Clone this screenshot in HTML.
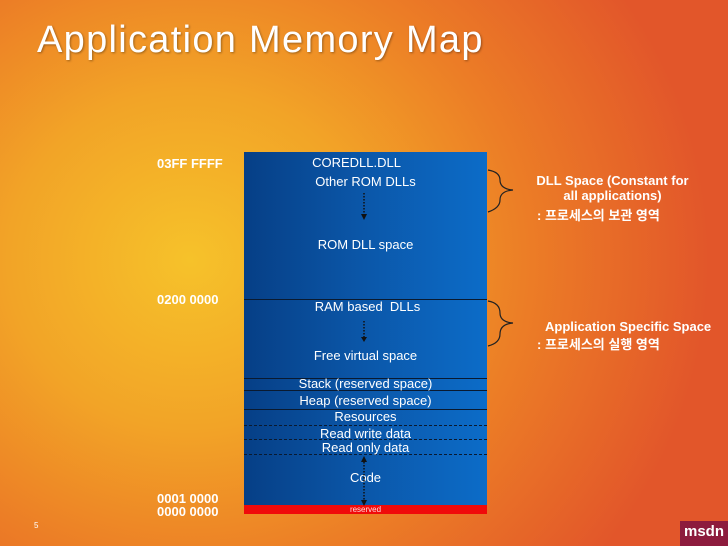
<!DOCTYPE html>
<html><head><meta charset="utf-8"><style>
body{margin:0;width:728px;height:546px;overflow:hidden;position:relative;font-family:"Liberation Sans","Noto Sans CJK KR",sans-serif;
background:radial-gradient(ellipse 520px 480px at 190px 260px,#f6c22a 0%,#f2a427 35%,#ec7d26 65%,#e2562a 100%);}
.t{position:absolute;color:#fff;white-space:nowrap}
.box{position:absolute;left:244px;top:152px;width:243px;height:353px;background:linear-gradient(90deg,#063f86 0%,#0b55a6 45%,#0c6cc8 100%)}
.l{position:absolute;left:244px;width:243px;height:0;border-top:1px solid #0a1a30}
.d{position:absolute;left:244px;width:243px;height:0;border-top:1px dashed #0a1a30}
.c{position:absolute;left:244px;width:243px;text-align:center;color:#fff;font-size:13px}
.addr{position:absolute;left:157px;color:#fff;font-weight:bold;font-size:13px}
.r{position:absolute;color:#fff;font-weight:bold;font-size:13px;text-align:center}
</style></head><body>
<div class="t" style="left:37px;top:19px;font-size:38px;letter-spacing:1.3px;text-shadow:1px 1px 2px rgba(0,0,0,.35)">Application Memory Map</div>
<div class="box"></div>
<div style="position:absolute;left:244px;top:505px;width:243px;height:9px;background:#f00a0a"></div>
<div class="c" style="top:505px;font-size:8px;color:#fdd">reserved</div>
<div class="l" style="top:299px"></div>
<div class="l" style="top:378px"></div>
<div class="l" style="top:390px"></div>
<div class="l" style="top:409px"></div>
<div class="d" style="top:425px"></div>
<div class="d" style="top:439px"></div>
<div class="d" style="top:454px"></div>
<div class="c" style="top:155px;left:235px">COREDLL.DLL</div>
<div class="c" style="top:174px;left:244px">Other ROM DLLs</div>
<div class="c" style="top:237px">ROM DLL space</div>
<div class="c" style="top:299px;left:246px">RAM based &nbsp;DLLs</div>
<div class="c" style="top:348px">Free virtual space</div>
<div class="c" style="top:376px">Stack (reserved space)</div>
<div class="c" style="top:393px">Heap (reserved space)</div>
<div class="c" style="top:409px">Resources</div>
<div class="c" style="top:426px">Read write data</div>
<div class="c" style="top:440px">Read only data</div>
<div class="c" style="top:470px">Code</div>
<svg style="position:absolute;left:0;top:0" width="728" height="546">
<g stroke="#111" stroke-width="1.5" stroke-dasharray="1.5,1.5" fill="none">
<line x1="364" y1="193" x2="364" y2="214"/>
<line x1="364" y1="321" x2="364" y2="337"/>
<line x1="364" y1="462" x2="364" y2="500"/>
</g>
<g fill="#111">
<polygon points="361,214 367,214 364,220"/>
<polygon points="361,337 367,337 364,342"/>
<polygon points="361,462 367,462 364,456"/>
<polygon points="361,500 367,500 364,506"/>
</g>
<g stroke="#222" stroke-width="1.2" fill="none">
<path d="M488,170 Q500,172 500,180 Q500,189 513,190 Q500,191 500,200 Q500,208 488,212"/>
<path d="M488,301 Q500,303 500,313 Q500,322 513,323 Q500,324 500,334 Q500,343 488,346"/>
</g>
</svg>
<div class="addr" style="top:156px">03FF FFFF</div>
<div class="addr" style="top:292px">0200 0000</div>
<div class="addr" style="top:491px">0001 0000</div>
<div class="addr" style="top:504px">0000 0000</div>
<div class="r" style="left:525px;top:173px;width:175px">DLL Space (Constant for<br>all applications)</div>
<div class="r" style="left:537px;top:205px;text-align:left">: 프로세스의 보관 영역</div>
<div class="r" style="left:545px;top:319px;text-align:left">Application Specific Space</div>
<div class="r" style="left:537px;top:334px;text-align:left">: 프로세스의 실행 영역</div>
<div class="t" style="left:34px;top:521px;font-size:8px">5</div>
<div style="position:absolute;left:680px;top:521px;width:48px;height:25px;background:#8d1b3d;color:#fff;font-size:15px;font-weight:bold;line-height:22px;text-align:center">msdn</div>
</body></html>
